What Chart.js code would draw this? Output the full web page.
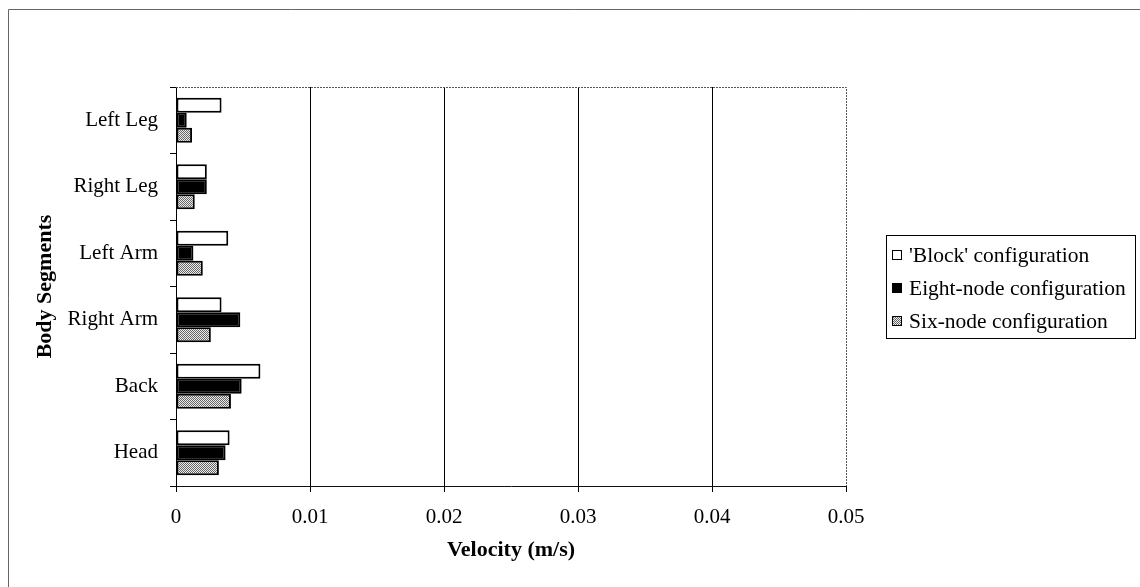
<!DOCTYPE html>
<html>
<head>
<meta charset="utf-8">
<script src="https://cdn.jsdelivr.net/npm/chart.js@4/dist/chart.umd.min.js"></script>
<style>
  html, body { margin: 0; padding: 0; background: #fff; }
  #wrap { position: relative; width: 1140px; height: 587px; }
</style>
</head>
<body>
<div id="wrap"><canvas id="velChart" width="1140" height="587"></canvas></div>
<script>
// Segments, top to bottom
const segments = ['Left Leg', 'Right Leg', 'Left Arm', 'Right Arm', 'Back', 'Head'];

// Velocity per configuration (m/s)
const blockVel = [0.0034, 0.0023, 0.0039, 0.0034, 0.0063, 0.0040];
const eightNodeVel = [0.0008, 0.0023, 0.0013, 0.0048, 0.0049, 0.0037];
const sixNodeVel = [0.0012, 0.0014, 0.0020, 0.0026, 0.0041, 0.0032];

const seriesNames = ["'Block' configuration", 'Eight-node configuration', 'Six-node configuration'];
const xTickLabels = ['0', '0.01', '0.02', '0.03', '0.04', '0.05'];

const FONT = "'Liberation Serif', 'Times New Roman', serif";

// Stippled grey fill used for the six-node bars
function makeStipple() {
  const c = document.createElement('canvas');
  c.width = 2; c.height = 2;
  const g = c.getContext('2d');
  g.fillStyle = '#ececec';
  g.fillRect(0, 0, 2, 2);
  g.fillStyle = '#666';
  g.fillRect(0, 0, 1, 1);
  g.fillRect(1, 1, 1, 1);
  return g.createPattern(c, 'repeat');
}
const stipple = makeStipple();

// Outer frame, dotted plot border and boxed legend
const framePlugin = {
  id: 'frame',
  beforeDraw(chart) {
    const ctx = chart.ctx;
    ctx.save();
    ctx.fillStyle = '#fff';
    ctx.fillRect(0, 0, chart.width, chart.height);
    ctx.strokeStyle = '#666';
    ctx.lineWidth = 1;
    ctx.beginPath();
    ctx.moveTo(8.5, chart.height);
    ctx.lineTo(8.5, 9.5);
    ctx.lineTo(chart.width, 9.5);
    ctx.stroke();
    ctx.restore();
  },
  afterDraw(chart) {
    const ctx = chart.ctx;
    const a = chart.chartArea;
    ctx.save();
    ctx.strokeStyle = '#555';
    ctx.lineWidth = 1;
    ctx.setLineDash([2, 1]);
    ctx.beginPath();
    ctx.moveTo(a.left, Math.round(a.top) + 0.5);
    ctx.lineTo(Math.round(a.right) + 0.5, Math.round(a.top) + 0.5);
    ctx.lineTo(Math.round(a.right) + 0.5, a.bottom);
    ctx.stroke();
    ctx.setLineDash([]);

    // legend
    const lx = 886, ly = 235, lw = 249, lh = 103;
    ctx.strokeStyle = '#000';
    ctx.strokeRect(lx + 0.5, ly + 0.5, lw, lh);
    ctx.font = '21.5px ' + FONT;
    ctx.textBaseline = 'middle';
    ctx.fillStyle = '#000';
    chart.data.datasets.forEach((ds, i) => {
      const cy = ly + 20 + i * 33;
      ctx.fillStyle = ds.backgroundColor;
      ctx.fillRect(892, cy - 5, 10, 10);
      ctx.strokeStyle = '#000';
      ctx.strokeRect(892.5, cy - 4.5, 9, 9);
      ctx.fillStyle = '#000';
      ctx.fillText(ds.label, 909, cy + 1);
    });
    ctx.restore();
  }
};

const ctx = document.getElementById('velChart').getContext('2d');
new Chart(ctx, {
  type: 'bar',
  data: {
    labels: segments,
    datasets: [
      { label: seriesNames[0], data: blockVel, backgroundColor: '#ffffff' },
      { label: seriesNames[1], data: eightNodeVel, backgroundColor: '#000000' },
      { label: seriesNames[2], data: sixNodeVel, backgroundColor: stipple }
    ]
  },
  options: {
    indexAxis: 'y',
    responsive: false,
    animation: false,
    layout: { padding: { top: 87, right: 294, bottom: 20, left: 28 } },
    datasets: {
      bar: {
        borderColor: '#000',
        borderWidth: 2,
        borderSkipped: false,
        categoryPercentage: 0.68,
        barPercentage: 1.0
      }
    },
    plugins: {
      legend: { display: false },
      tooltip: { enabled: false }
    },
    scales: {
      x: {
        min: 0,
        max: 0.05,
        ticks: {
          stepSize: 0.01,
          padding: 13,
          color: '#000',
          font: { family: FONT, size: 21 },
          callback: (v, i) => xTickLabels[i]
        },
        grid: {
          color: c => (c.index === 0 || c.index === xTickLabels.length - 1) ? 'rgba(0,0,0,0)' : '#000',
          lineWidth: 1,
          tickColor: '#000',
          tickLength: 6
        },
        border: { color: '#111', width: 1 },
        title: {
          display: true,
          text: 'Velocity (m/s)',
          color: '#000',
          font: { family: FONT, size: 22, weight: 'bold' },
          padding: { top: 0, bottom: 3 }
        },
        afterFit: s => { s.height = 81; }
      },
      y: {
        ticks: {
          padding: 12,
          color: '#000',
          font: { family: FONT, size: 21 }
        },
        grid: {
          offset: true,
          drawOnChartArea: false,
          tickColor: '#000',
          tickLength: 6
        },
        border: { color: '#000', width: 1 },
        title: {
          display: true,
          text: 'Body Segments',
          color: '#000',
          font: { family: FONT, size: 22, weight: 'bold' },
          padding: { top: 4, bottom: 0 }
        },
        afterFit: s => { s.width = 148; }
      }
    }
  },
  plugins: [framePlugin]
});
</script>
</body>
</html>
